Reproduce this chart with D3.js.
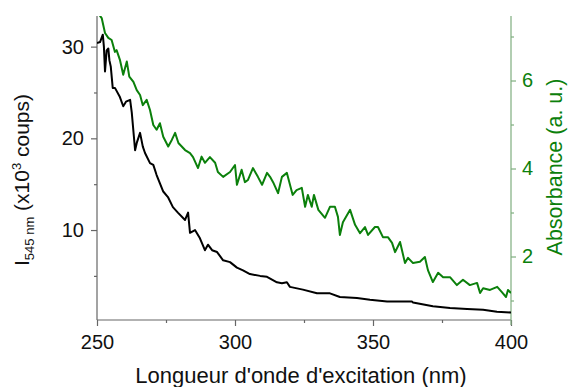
<!DOCTYPE html>
<html><head><meta charset="utf-8">
<script src="https://cdn.jsdelivr.net/npm/d3@7"></script>
<style>html,body{margin:0;padding:0;background:#fff;} svg{display:block;font-family:"Liberation Sans",Arial,sans-serif;}</style>
</head><body>
<svg id="chart" width="568" height="387"></svg>
<script>
// ---- Data ----
const wavelengthI = [250,251.1,252.1,252.5,252.9,253.5,254.1,254.5,255.0,255.7,256.5,258.3,259.5,260.5,262.0,262.6,263.8,264.4,265.6,266.6,267.4,269.2,270.4,271.6,272.8,274.0,275.7,277.5,279.3,281.9,283.0,283.7,285.5,287.3,289.1,290.2,291.7,293.5,295.7,298.2,300.7,302.9,305.4,309.1,311.6,315.2,317.0,318.8,319.9,324.6,329.7,334.4,338.0,344.2,348.9,355.1,358.7,364.1,364.5,371.7,377.9,384.1,389.9,394.9,400];
const intensity = [30.4,30.5,31.3,30.0,27.3,29.6,29.8,28.5,27.8,25.5,25.5,24.5,23.5,24.0,24.2,22.8,18.7,19.5,20.6,19.1,18.4,17.3,17.1,16.0,15.1,14.2,13.6,12.5,11.9,11.1,11.9,9.7,10.0,9.1,7.8,8.4,7.8,7.6,6.7,6.5,5.9,5.6,5.2,5.0,4.9,4.3,4.2,4.3,3.8,3.5,3.1,3.1,2.7,2.6,2.4,2.2,2.2,2.2,2.1,1.7,1.5,1.4,1.3,1.1,1.0];

const wavelengthA = [250,251.1,251.7,252.9,254.1,255.3,256.5,257.1,258.3,259.5,260.8,261.7,263.2,264.4,265.6,266.6,268.0,269.2,270.4,271.6,272.8,274.0,275.8,277.1,278.3,279.5,281.9,283.7,284.8,286.6,287.9,289.1,290.9,292.8,293.8,295.7,298.2,300.0,300.7,302.4,303.6,304.7,306.5,308.3,309.8,311.6,312.7,313.8,315.6,317.0,318.8,320.9,322.3,324.2,325.4,326.4,327.8,328.6,330.2,332.6,334.4,336.2,337.3,338.0,339.1,341.7,343.5,345.3,347.1,348.2,350.7,351.8,353.6,355.4,356.9,358.0,359.8,361.6,362.7,364.5,367.0,368.8,369.9,371.7,373.6,375.4,377.9,380.4,382.6,385.1,387.7,388.8,389.9,392.4,395.0,396.7,398.2,398.9,400];
const absorbance = [7.8,7.47,7.42,7.08,6.97,6.92,6.65,6.69,6.47,6.13,6.43,6.09,5.97,5.78,5.67,5.44,5.56,5.33,4.99,4.88,5.03,4.72,4.50,4.65,4.81,4.58,4.42,4.35,4.26,4.01,4.27,4.13,4.26,4.13,3.92,3.81,3.92,4.08,3.63,3.97,3.69,3.74,4.01,3.81,3.63,3.90,3.81,3.69,3.44,3.81,3.90,3.40,3.51,3.56,3.13,3.40,3.13,3.40,3.06,2.88,3.13,3.13,2.90,2.49,2.78,3.06,2.72,2.53,2.67,2.49,2.67,2.67,2.44,2.44,2.31,2.10,2.33,1.85,1.97,1.85,1.88,1.99,1.69,1.42,1.63,1.53,1.53,1.35,1.47,1.35,1.40,1.17,1.28,1.24,1.31,1.19,1.08,1.24,1.17];

const xTicks = [250,300,350,400];
const xMinorTicks = [275,325,375];
const yLeftTicks = [10,20,30];
const yLeftMinorTicks = [5,15,25];
const yRightTicks = [2,4,6];
const yRightMinorTicks = [1,3,5,7];

// ---- Layout ----
const svg = d3.select("#chart");
const L = 97, R = 511, T = 16, B = 320;
const green = "#0b800b";
const axisGray = "#666";
const axisGreen = "#7fae7f";

const x = d3.scaleLinear().domain([250,400]).range([L,R]);
const yL = d3.scaleLinear().domain([0.19,33.34]).range([B,T]);
const yR = d3.scaleLinear().domain([0.557,7.466]).range([B,T]);

svg.append("defs").append("clipPath").attr("id","clip")
  .append("rect").attr("x",L).attr("y",T).attr("width",R-L).attr("height",B-T);

function styleAxis(g, color, textColor){
  g.select(".domain").remove();
  g.selectAll(".tick line").attr("stroke",color).attr("stroke-width",1.2);
  g.selectAll(".tick text").attr("fill",textColor).attr("font-size",20)
   .attr("font-family","'Liberation Sans',Arial,sans-serif");
}

// Bottom axis
const gx = svg.append("g").attr("transform",`translate(0,${B})`)
  .call(d3.axisBottom(x).tickValues(xTicks).tickSize(6).tickPadding(9).tickFormat(d3.format("d")));
styleAxis(gx, axisGray, "#111");
svg.append("g").attr("transform",`translate(0,${B})`)
  .call(d3.axisBottom(x).tickValues(xMinorTicks).tickSize(3).tickFormat(""))
  .call(g=>styleAxis(g, axisGray, "#111"));

// Left axis
const gyl = svg.append("g").attr("transform",`translate(${L},0)`)
  .call(d3.axisLeft(yL).tickValues(yLeftTicks).tickSize(6).tickPadding(7).tickFormat(d3.format("d")));
styleAxis(gyl, axisGray, "#111");
svg.append("g").attr("transform",`translate(${L},0)`)
  .call(d3.axisLeft(yL).tickValues(yLeftMinorTicks).tickSize(3).tickFormat(""))
  .call(g=>styleAxis(g, axisGray, "#111"));

// Right axis
const gyr = svg.append("g").attr("transform",`translate(${R},0)`)
  .call(d3.axisRight(yR).tickValues(yRightTicks).tickSize(5).tickPadding(6).tickFormat(d3.format("d")));
styleAxis(gyr, axisGreen, green);
svg.append("g").attr("transform",`translate(${R},0)`)
  .call(d3.axisRight(yR).tickValues(yRightMinorTicks).tickSize(3).tickFormat(""))
  .call(g=>styleAxis(g, axisGreen, green));

// Axis lines
svg.append("line").attr("x1",L).attr("x2",L).attr("y1",T).attr("y2",B).attr("stroke",axisGray).attr("stroke-width",1.2);
svg.append("line").attr("x1",L).attr("x2",R).attr("y1",B).attr("y2",B).attr("stroke",axisGray).attr("stroke-width",1.2);
svg.append("line").attr("x1",R).attr("x2",R).attr("y1",T).attr("y2",B+5).attr("stroke",axisGreen).attr("stroke-width",1.2);

// Lines
const plot = svg.append("g").attr("clip-path","url(#clip)");
const lineI = d3.line().x((d,i)=>x(wavelengthI[i])).y(d=>yL(d));
const lineA = d3.line().x((d,i)=>x(wavelengthA[i])).y(d=>yR(d));
plot.append("path").datum(absorbance).attr("d",lineA).attr("fill","none")
  .attr("stroke",green).attr("stroke-width",2).attr("stroke-linejoin","round");
plot.append("path").datum(intensity).attr("d",lineI).attr("fill","none")
  .attr("stroke","#000").attr("stroke-width",2).attr("stroke-linejoin","round");

// Titles
svg.append("text").attr("x",(L+R)/2 - 3).attr("y",383).attr("text-anchor","middle")
  .attr("font-size",22).attr("fill","#111").text("Longueur d'onde d'excitation (nm)");

const lt = svg.append("text").attr("transform","translate(29,180) rotate(-90)")
  .attr("text-anchor","middle").attr("font-size",21).attr("fill","#111");
lt.append("tspan").text("I");
lt.append("tspan").attr("dy",5).attr("font-size",13).text("545 nm");
lt.append("tspan").attr("dy",-5).text(" (x10");
lt.append("tspan").attr("dy",-8).attr("font-size",13).text("3");
lt.append("tspan").attr("dy",8).text(" coups)");

svg.append("text").attr("transform","translate(562,167) rotate(-90)")
  .attr("text-anchor","middle").attr("font-size",21.5).attr("fill",green)
  .text("Absorbance (a. u.)");
</script>
</body></html>
